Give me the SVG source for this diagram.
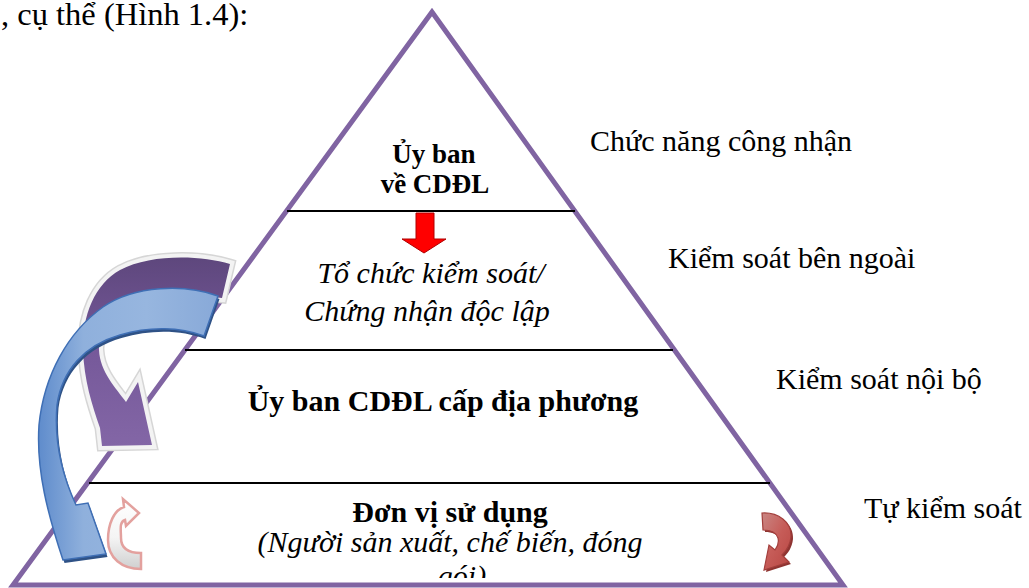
<svg xmlns="http://www.w3.org/2000/svg" width="1029" height="588" viewBox="0 0 1029 588">
  <style>
    text { font-family: "Liberation Serif", "Times New Roman", serif; fill: #000; }
    .t30 { font-size: 30px; }
    .b { font-weight: bold; }
    .i { font-style: italic; }
    .mid { text-anchor: middle; }
    .tier { stroke: #000; stroke-width: 2; fill: none; }
    .pyr { fill: none; stroke: #8064a2; stroke-width: 5; stroke-linejoin: miter; }
  </style>
  <defs>
    <linearGradient id="gPurple" x1="0" y1="0" x2="0" y2="1">
      <stop offset="0" stop-color="#5e477d"/>
      <stop offset="0.5" stop-color="#76599a"/>
      <stop offset="1" stop-color="#8366a6"/>
    </linearGradient>
    <linearGradient id="gBlue" x1="0" y1="0" x2="1" y2="0">
      <stop offset="0" stop-color="#5f8ccc"/>
      <stop offset="0.25" stop-color="#8fb0dc"/>
      <stop offset="0.6" stop-color="#97b6df"/>
      <stop offset="1" stop-color="#88a9d8"/>
    </linearGradient>
    <linearGradient id="gPink" x1="0" y1="0" x2="0" y2="1">
      <stop offset="0" stop-color="#ffffff"/>
      <stop offset="0.55" stop-color="#f4f4f4"/>
      <stop offset="1" stop-color="#cfcfcf"/>
    </linearGradient>
    <linearGradient id="gRed" x1="0" y1="0" x2="1" y2="1">
      <stop offset="0" stop-color="#c98683"/>
      <stop offset="0.5" stop-color="#c65c58"/>
      <stop offset="1" stop-color="#b84642"/>
    </linearGradient>
    <!-- the bottom tier's text box cuts off its last line -->
    <clipPath id="baseClip">
      <rect x="0" y="560" width="1029" height="18"/>
    </clipPath>
    <path id="purpleShape" d="M230,264 C200,255 150,254 120,270 C95,284 82,315 83,350 C84,380 92,405 100,428 L102,446 L152,445 L138,382 L126,402 C116,388 100,372 99,350 C98,325 118,305 150,299 C175,294 200,296 222,298 Z"/>
    <path id="blueShape" d="M218,296 C185,284 135,285 103,307 C68,332 44,375 39,425 C36,470 48,515 63,560 L106,554 L88,503 L76,505 C62,475 54,440 57,405 C62,370 85,345 120,335 C150,326 180,327 204,336 Z"/>
    <path id="redShape" d="M762,513 C778,512 792,522 791,537 C790,546 786,551 782,555 L789,562 L764,570 L769,545 L775,550 C778,546 779,542 778,538 C776,532 770,530 763,530 Z"/>
  </defs>

  <!-- heading fragment -->
  <text x="1" y="25" style="font-size:32.5px">, cụ thể (Hình 1.4):</text>

  <!-- pyramid outline and tier dividers -->
  <g id="pyramid">
    <polygon class="pyr" points="432,12 13,585 843,585"/>
    <line class="tier" x1="287" y1="211" x2="575" y2="211"/>
    <line class="tier" x1="185" y1="350" x2="673" y2="350"/>
    <line class="tier" x1="89" y1="483" x2="770" y2="483"/>
  </g>

  <!-- tier 1: national committee -->
  <g id="apex">
    <text class="b mid" x="434" y="163" style="font-size:27px">Ủy ban</text>
    <text class="b mid" x="435" y="193" style="font-size:27px">về CDĐL</text>
  </g>

  <!-- tier 2: independent certification body -->
  <g id="tier-external">
    <text class="t30 i mid" x="431" y="283">Tổ chức kiểm soát/</text>
    <text class="t30 i mid" x="427" y="321">Chứng nhận độc lập</text>
  </g>

  <!-- tier 3: local committee -->
  <g id="tier-internal">
    <text class="t30 b mid" x="443" y="411">Ủy ban CDĐL cấp địa phương</text>
  </g>

  <!-- tier 4: users -->
  <g id="tier-base">
    <text class="t30 b mid" x="450" y="522">Đơn vị sử dụng</text>
    <text class="t30 i mid" x="450" y="552">(Người sản xuất, chế biến, đóng</text>
    <text class="t30 i mid" x="462" y="586" clip-path="url(#baseClip)">gói)</text>
  </g>

  <!-- function labels on the right -->
  <g id="labels">
    <text class="t30" x="590" y="151">Chức năng công nhận</text>
    <text class="t30" x="668" y="268">Kiểm soát bên ngoài</text>
    <text class="t30" x="776" y="389">Kiểm soát nội bộ</text>
    <text class="t30" x="864" y="518">Tự kiểm soát</text>
  </g>

  <!-- arrows -->
  <g id="connectors">
    <!-- red down arrow under the apex -->
    <polygon points="416,213 434,213 434,239 446,239 424,253 402,239 416,239" fill="#ff0000" stroke="#b00000" stroke-width="1"/>

    <!-- purple curved arrow with light rim -->
    <g id="arrow-purple">
      <use href="#purpleShape" fill="none" stroke="#d6d6d6" stroke-width="11" stroke-linejoin="miter"/>
      <use href="#purpleShape" fill="none" stroke="#f3f3f3" stroke-width="8" stroke-linejoin="miter"/>
      <use href="#purpleShape" fill="url(#gPurple)"/>
    </g>

    <!-- blue curved arrow with dark bevel -->
    <g id="arrow-blue">
      <use href="#blueShape" fill="#2f5286" transform="translate(1.5,3)"/>
      <use href="#blueShape" fill="url(#gBlue)" stroke="#3f6fb5" stroke-width="1.5" stroke-linejoin="miter"/>
    </g>

    <!-- small self-control arrows -->
    <path id="arrow-pink" d="M141,569 C122,569 108,558 108,540 C108,524 114,510 124,507 L123,499 L139,513 L126,526 L125,520 C119,522 121,530 121,538 C121,548 128,553 141,553 Z" fill="url(#gPink)" stroke="#e3a19e" stroke-width="2.5" stroke-linejoin="miter"/>
    <g id="arrow-red">
      <use href="#redShape" fill="#8e3431" transform="translate(2,2)"/>
      <use href="#redShape" fill="url(#gRed)" stroke="#a23e3b" stroke-width="1.2"/>
    </g>
  </g>
</svg>
